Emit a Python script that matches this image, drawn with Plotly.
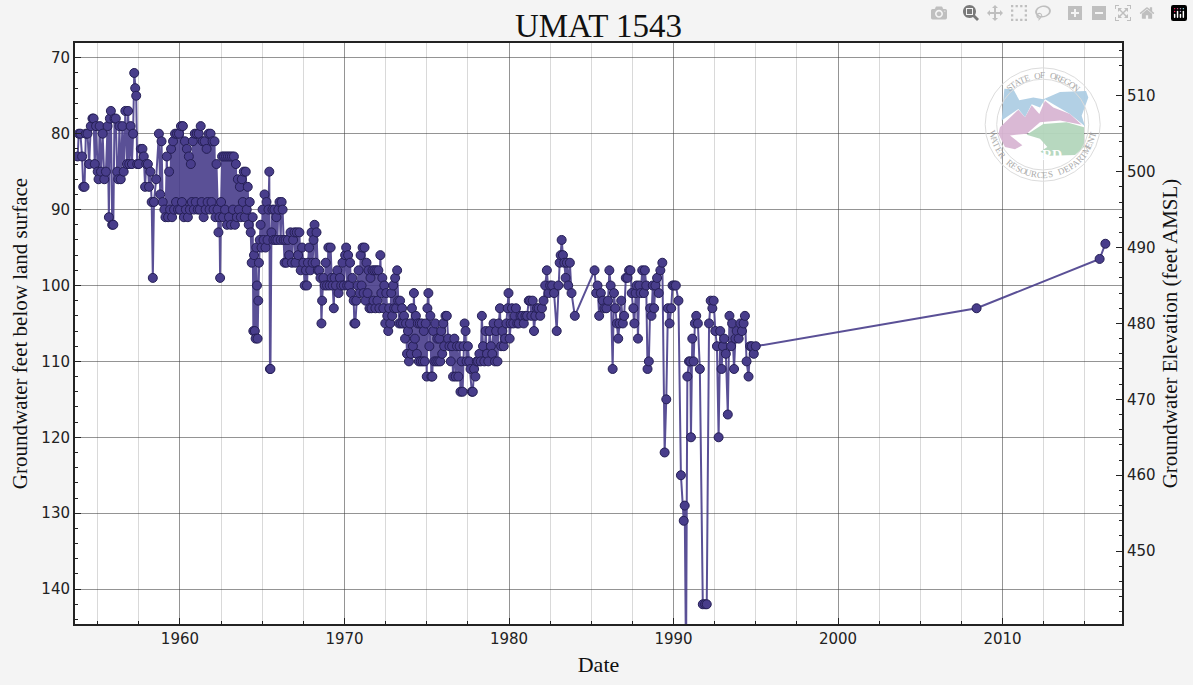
import math
import plotly.graph_objects as go

TITLE = "UMAT 1543"
X_LABEL = "Date"
Y_LABEL = "Groundwater feet below land surface"
Y2_LABEL = "Groundwater Elevation (feet AMSL)"
LAND_SURFACE = 585

readings_1950s = [
 (1953.78,83),(1953.85,80),(1953.95,80),(1954.05,83),(1954.12,87),(1954.2,87),(1954.28,80),(1954.38,80),
 (1954.48,84),(1954.58,79),(1954.68,78),(1954.75,78),(1954.82,84),(1954.9,79),(1955.0,85),(1955.05,86),
 (1955.12,79),(1955.2,85),(1955.3,80),(1955.4,86),(1955.5,85),(1955.6,79),(1955.68,91),(1955.74,78),
 (1955.8,77),(1955.88,92),(1955.95,92),(1956.02,78),(1956.1,78),(1956.18,85),(1956.25,86),(1956.32,79),
 (1956.4,86),(1956.5,79),(1956.58,85),(1956.68,77),(1956.78,84),(1956.85,77),(1956.92,84),(1957.0,79),
 (1957.08,84),(1957.15,80),(1957.22,72),(1957.28,74),(1957.34,75),(1957.4,84),(1957.5,84),(1957.62,82),
 (1957.72,82),(1957.8,83),(1957.88,87),(1957.95,84),(1958.05,84),(1958.12,87),(1958.2,85),(1958.28,89),
 (1958.35,99),(1958.42,89),(1958.55,86),(1958.72,80),(1958.8,88),(1958.88,81),(1958.95,89),(1959.05,90),
 (1959.12,91),(1959.2,83),(1959.28,91),(1959.34,85),(1959.4,90),(1959.46,82),(1959.52,91),(1959.58,81),
 (1959.64,90),(1959.7,80),(1959.76,89),(1959.82,80),(1959.88,90),(1959.94,80),
]
readings_1960s = [
 (1960.0,90),(1960.06,79),(1960.12,89),(1960.18,79),(1960.24,91),(1960.3,81),(1960.36,90),(1960.42,82),
 (1960.48,91),(1960.54,83),(1960.6,90),(1960.66,84),(1960.72,89),(1960.78,81),(1960.84,90),(1960.9,80),
 (1960.96,89),(1961.02,80),(1961.08,90),(1961.14,80),(1961.2,90),(1961.26,79),(1961.32,89),(1961.38,81),
 (1961.44,91),(1961.5,81),(1961.56,90),(1961.62,82),(1961.68,89),(1961.74,80),(1961.8,90),(1961.86,80),
 (1961.92,89),(1961.98,81),(1962.04,90),(1962.1,81),(1962.16,91),(1962.22,84),(1962.28,90),(1962.34,93),
 (1962.4,91),(1962.44,99),(1962.5,89),(1962.56,83),(1962.62,91),(1962.68,83),(1962.74,90),(1962.8,83),
 (1962.86,92),(1962.92,83),(1962.98,91),(1963.04,83),(1963.1,92),(1963.16,83),(1963.22,90),(1963.28,83),
 (1963.34,92),(1963.4,84),(1963.46,91),(1963.52,86),(1963.58,90),(1963.64,87),(1963.7,91),(1963.76,86),
 (1963.82,89),(1963.88,85),(1963.94,91),(1964.0,85),(1964.06,90),(1964.12,87),(1964.18,92),(1964.24,89),
 (1964.3,93),(1964.36,97),(1964.42,91),(1964.46,106),(1964.5,96),(1964.55,106),(1964.6,107),(1964.64,95),
 (1964.68,100),(1964.72,107),(1964.76,102),(1964.8,97),(1964.85,94),(1964.9,92),(1964.96,95),(1965.02,90),
 (1965.08,94),(1965.14,88),(1965.2,95),(1965.26,89),(1965.32,94),(1965.38,90),(1965.43,85),(1965.47,111),
 (1965.5,111),(1965.56,93),(1965.62,90),(1965.68,94),(1965.74,90),(1965.8,94),(1965.86,91),(1965.92,94),
 (1965.98,90),(1966.05,89),(1966.12,94),(1966.18,89),(1966.24,90),(1966.3,94),(1966.36,97),(1966.42,94),
 (1966.48,97),(1966.56,94),(1966.64,96),(1966.72,93),(1966.8,97),(1966.88,94),(1966.96,93),(1967.02,97),
 (1967.1,93),(1967.18,96),(1967.26,93),(1967.34,98),(1967.42,95),(1967.5,97),(1967.58,100),(1967.66,98),
 (1967.72,100),(1967.78,97),(1967.85,95),(1967.92,98),(1968.0,93),(1968.06,97),(1968.12,94),(1968.18,92),
 (1968.24,97),(1968.3,93),(1968.38,98),(1968.46,98),(1968.54,99),(1968.6,105),(1968.64,102),(1968.72,99),
 (1968.8,100),(1968.86,97),(1968.94,100),(1969.02,95),(1969.1,100),(1969.16,95),(1969.22,99),(1969.28,100),
 (1969.35,103),(1969.4,99),(1969.48,100),(1969.56,98),(1969.64,101),(1969.72,99),(1969.8,100),(1969.88,97),
 (1969.96,100),
]
readings_1970s = [
 (1970.04,96),(1970.1,95),(1970.16,100),(1970.22,96),(1970.28,100),(1970.34,97),(1970.4,101),(1970.48,99),
 (1970.56,102),(1970.6,105),(1970.66,105),(1970.72,102),(1970.8,100),(1970.86,98),(1970.92,101),(1970.98,96),
 (1971.04,100),(1971.1,95),(1971.16,101),(1971.22,95),(1971.28,102),(1971.34,97),(1971.4,101),(1971.46,98),
 (1971.52,103),(1971.58,99),(1971.64,103),(1971.7,98),(1971.76,102),(1971.82,98),(1971.88,103),(1971.94,98),
 (1972.0,102),(1972.06,98),(1972.12,103),(1972.18,96),(1972.24,101),(1972.3,99),(1972.36,103),(1972.42,100),
 (1972.48,105),(1972.54,101),(1972.6,104),(1972.66,106),(1972.72,103),(1972.78,105),(1972.84,101),(1972.9,104),
 (1972.96,100),(1973.02,103),(1973.08,99),(1973.14,103),(1973.2,98),(1973.26,102),(1973.32,105),(1973.38,102),
 (1973.44,105),(1973.5,103),(1973.56,105),(1973.62,104),(1973.68,107),(1973.74,105),(1973.8,109),(1973.86,106),
 (1973.92,110),(1973.98,105),(1974.04,109),(1974.1,103),(1974.16,108),(1974.22,101),(1974.28,107),(1974.34,104),
 (1974.4,109),(1974.46,105),(1974.52,110),(1974.58,105),(1974.64,110),(1974.7,105),(1974.76,110),(1974.82,106),
 (1974.88,110),(1974.94,105),(1975.0,112),(1975.04,103),(1975.1,101),(1975.16,108),(1975.22,104),(1975.28,112),
 (1975.34,112),(1975.4,106),(1975.46,110),(1975.52,105),(1975.58,110),(1975.64,107),(1975.7,110),(1975.76,107),
 (1975.82,110),(1975.88,106),(1975.94,109),(1976.0,105),(1976.06,108),(1976.14,104),(1976.22,104),(1976.3,107),
 (1976.38,108),(1976.46,110),(1976.54,108),(1976.6,112),(1976.68,107),(1976.76,112),(1976.84,108),(1976.92,112),
 (1977.0,108),(1977.05,114),(1977.12,110),(1977.18,114),(1977.24,108),(1977.3,105),(1977.36,106),(1977.42,110),
 (1977.5,108),(1977.58,110),(1977.66,111),(1977.74,114),(1977.8,114),(1977.88,111),(1977.96,112),(1978.04,110),
 (1978.12,110),(1978.2,109),(1978.28,110),(1978.35,104),(1978.42,108),(1978.5,110),(1978.58,106),(1978.66,109),
 (1978.74,110),(1978.82,106),(1978.9,108),(1978.98,109),(1979.06,105),(1979.15,110),(1979.22,106),(1979.3,110),
 (1979.38,105),(1979.45,103),(1979.52,108),(1979.6,106),(1979.68,108),(1979.76,107),(1979.84,105),(1979.92,103),
 (1979.97,101),
]
readings_1980s = [
 (1980.04,107),(1980.1,105),(1980.18,103),(1980.26,105),(1980.34,104),(1980.42,103),(1980.5,105),(1980.6,105),
 (1980.7,104),(1980.8,104),(1980.9,105),(1981.0,104),(1981.1,104),(1981.2,102),(1981.28,102),(1981.36,104),
 (1981.44,102),(1981.52,106),(1981.6,104),(1981.7,103),(1981.8,103),(1981.9,104),(1982.0,103),(1982.1,102),
 (1982.2,100),(1982.3,98),(1982.4,101),(1982.5,100),(1982.62,100),(1982.74,101),(1982.9,106),(1983.0,100),
 (1983.08,97),(1983.14,96),(1983.2,94),(1983.28,96),(1983.36,97),(1983.44,99),(1983.52,97),(1983.6,100),
 (1983.7,97),(1983.8,101),(1984.0,104),(1985.2,98),(1985.3,101),(1985.38,100),(1985.48,104),(1985.58,101),
 (1985.7,102),(1985.8,103),(1985.92,103),(1986.02,102),(1986.1,98),(1986.18,100),(1986.3,111),(1986.38,101),
 (1986.46,103),(1986.56,105),(1986.64,107),(1986.72,105),(1986.82,102),(1986.92,105),(1987.0,104),(1987.1,99),
 (1987.2,99),(1987.3,98),(1987.38,98),(1987.46,101),(1987.56,103),(1987.62,105),(1987.7,101),(1987.76,100),
 (1987.84,107),(1987.92,100),(1988.0,101),(1988.1,98),(1988.2,101),(1988.26,98),(1988.34,100),(1988.42,111),
 (1988.5,110),(1988.58,103),(1988.66,104),(1988.74,100),(1988.82,103),(1988.9,100),(1989.0,99),(1989.1,101),
 (1989.2,98),(1989.32,97),(1989.46,122),(1989.56,115),(1989.66,103),(1989.76,105),(1989.86,103),(1989.94,100),
]
readings_1990s = [
 (1990.04,100),(1990.14,100),(1990.3,102),(1990.45,125),(1990.62,131),(1990.68,129),(1990.76,150),(1990.84,112),
 (1990.94,110),(1991.02,110),(1991.06,120),(1991.14,107),(1991.22,110),(1991.3,105),(1991.38,104),(1991.48,105),
 (1991.6,111),(1991.78,142),(1991.92,142),(1992.02,142),(1992.16,105),(1992.26,102),(1992.36,103),(1992.44,102),
 (1992.54,106),(1992.64,108),(1992.74,120),(1992.84,106),(1992.92,111),(1993.0,108),(1993.08,107),(1993.18,109),
 (1993.3,117),(1993.4,104),(1993.5,108),(1993.56,105),(1993.68,111),(1993.76,107),(1993.84,106),(1993.96,107),
 (1994.06,105),(1994.16,106),(1994.26,105),(1994.34,104),(1994.44,110),(1994.56,112),(1994.66,108),(1994.76,108),
 (1994.88,109),(1995.0,108),(2008.42,103),(2015.9,96.5),(2016.25,94.5),
]
readings = readings_1950s + readings_1960s + readings_1970s + readings_1980s + readings_1990s
dates = [r[0] for r in readings]
depths = [r[1] for r in readings]
elevations = [LAND_SURFACE - d for d in depths]

W, H = 1193, 685
L, R, T, B = 75, 1122, 43, 632
fig = go.Figure()
fig.add_trace(go.Scatter(x=dates, y=depths, mode="lines+markers", hoverinfo="x+y",
    line=dict(color="rgba(72,61,139,0.9)", width=2),
    marker=dict(color="#483d8b", size=9, line=dict(color="#251f55", width=1)), cliponaxis=True, showlegend=False))
fig.add_trace(go.Scatter(x=dates, y=elevations, yaxis="y2", mode="lines", opacity=0,
    hoverinfo="skip", showlegend=False))

def px(x, y):
    return (x - L) / (R - L), (B - y) / (B - T)
def path(points):
    out = []
    for i, (zx, zy) in enumerate(points):
        a, b = px(960 + zx / 3, 40 + zy / 3)
        out.append(("M" if i == 0 else "L") + f"{a:.5f} {b:.5f}")
    return " ".join(out) + " Z"

oregon = [(133,148),(160,150),(178,183),(220,175),(250,180),(300,158),(378,155),(385,175),(365,230),(375,262),
          (330,225),(280,195),(255,180),(240,205),(215,195),(195,235),(175,210),(125,245)]
ridge = [(115,285),(120,265),(175,212),(195,235),(215,198),(238,225),(255,185),(280,205),(330,225),(365,258),
         (300,245),(240,250),(200,285),(150,290),(187,320),(165,332),(135,325)]
valley = [(200,288),(250,255),(320,250),(372,265),(372,325),(345,350),(270,352),(240,340),(262,325),(240,300)]
shapes = []
for pts, col in [(oregon,"#aecde4"),(ridge,"#d8b5d3"),(valley,"#b3d6bc")]:
    shapes.append(dict(type="path", xref="paper", yref="paper", path=path(pts), fillcolor=col, line_width=0, layer="above", opacity=0.95))
cx, cy = 1042.7, 125.7
for r in (57.5, 46):
    x0, y0 = px(cx - r, cy + r); x1, y1 = px(cx + r, cy - r)
    shapes.append(dict(type="circle", xref="paper", yref="paper", x0=x0, y0=y0, x1=x1, y1=y1,
                       line=dict(color="#dcdcdc", width=1), layer="above"))

ann = []
def curved(text, start, stop, radius, bottom):
    n = len(text)
    for i, ch in enumerate(text):
        ang = math.radians(start + (stop - start) * i / (n - 1))
        xp, yp = cx + radius * math.sin(ang), cy - radius * math.cos(ang)
        a, b = px(xp, yp)
        rot = math.degrees(ang) + (180 if bottom else 0)
        ann.append(dict(text=ch, x=a, y=b, xref="paper", yref="paper", showarrow=False, textangle=rot,
                        font=dict(family="Liberation Serif", size=9, color="#a9a9a9"), xanchor="center", yanchor="middle"))
curved("STATE OF OREGON", -42, 42, 50, False)
curved("WATER RESOURCES DEPARTMENT", 258, 102, 51, True)
a, b = px(1064, 147)
ann.append(dict(text="<b>WRD</b>", x=a, y=b, xref="paper", yref="paper", showarrow=False,
                font=dict(family="Liberation Serif", size=14, color="white")))

grid = "rgba(60,60,60,0.55)"
minor_grid = "rgba(120,120,120,0.28)"
fig.update_layout(
    width=W, height=H, autosize=False, paper_bgcolor="#f4f4f4", plot_bgcolor="white",
    margin=dict(l=L, r=W - R, t=T, b=H - B), showlegend=False, shapes=shapes, annotations=ann,
    title=dict(text=TITLE, x=(L + R) / 2 / W, xanchor="center", y=0.963, yanchor="middle",
               font=dict(family="Liberation Serif", size=33, color="#111")),
    xaxis=dict(range=[1953.62, 2017.26], tick0=1960, dtick=10, ticks="inside", ticklen=6, tickcolor="#222",
               showgrid=True, gridcolor=grid, gridwidth=1, zeroline=False, showline=True, linecolor="#222",
               linewidth=2, mirror=True, tickfont=dict(family="DejaVu Sans", size=15, color="#222"),
               minor=dict(tick0=1960, dtick=2.5, showgrid=True, gridcolor=minor_grid, gridwidth=1, ticks="inside", ticklen=3, tickcolor="#222"),
               title=dict(text=X_LABEL, standoff=10, font=dict(family="Liberation Serif", size=22, color="#111"))),
    yaxis=dict(range=[144.6, 68.05], tick0=70, dtick=10, ticks="inside", ticklen=6, tickcolor="#222",
               showgrid=True, gridcolor=grid, gridwidth=1, zeroline=False, showline=True, linecolor="#222",
               linewidth=2, tickfont=dict(family="DejaVu Sans", size=15, color="#222"),
               minor=dict(tick0=70, dtick=2, ticks="inside", ticklen=3, tickcolor="#222"),
               title=dict(text=Y_LABEL, standoff=8, font=dict(family="Liberation Serif", size=21, color="#111"))),
    yaxis2=dict(range=[LAND_SURFACE - 144.6, LAND_SURFACE - 68.05], overlaying="y", side="right", anchor="x",
                tick0=450, dtick=10, ticks="inside", ticklen=6, tickcolor="#222", showgrid=False, zeroline=False,
                showline=True, linecolor="#222", linewidth=2,
                tickfont=dict(family="DejaVu Sans", size=15, color="#222"),
                minor=dict(tick0=450, dtick=2, ticks="inside", ticklen=3, tickcolor="#222"),
                title=dict(text=Y2_LABEL, standoff=8, font=dict(family="Liberation Serif", size=21, color="#111"))),
)
fig.write_html("out.html", post_script="document.body.style.margin='0';")
